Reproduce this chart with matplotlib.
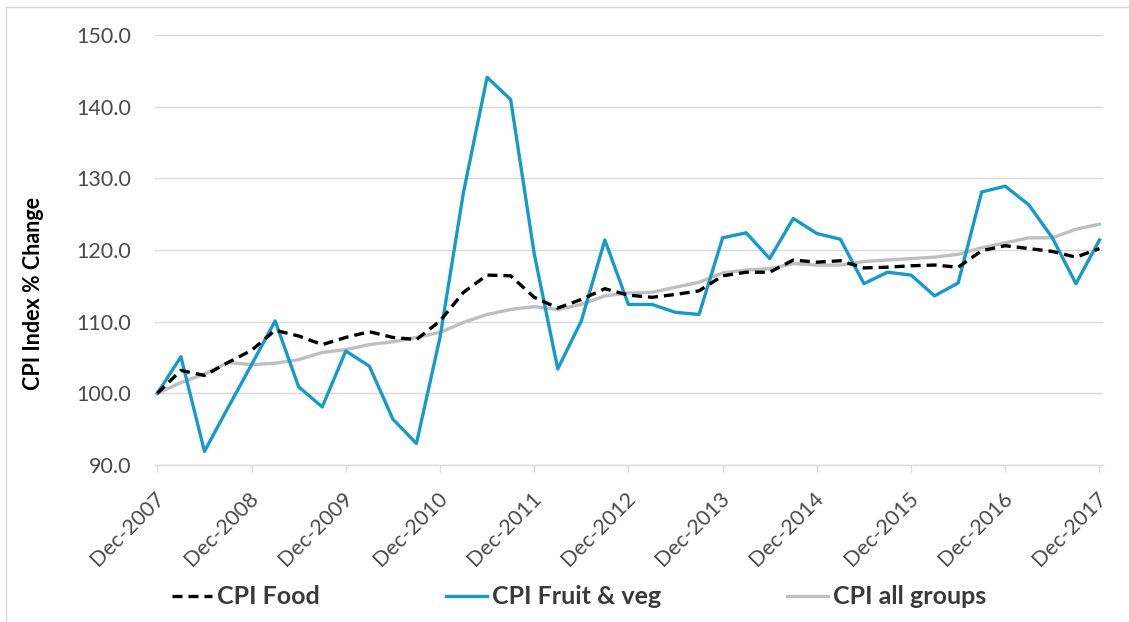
import matplotlib
matplotlib.use("Agg")
import matplotlib.pyplot as plt
import matplotlib.transforms as mtransforms
from matplotlib.lines import Line2D
import numpy as np

# quarterly CPI index, Dec-2007 = 100
tick_labels = ["Dec-2007", "Dec-2008", "Dec-2009", "Dec-2010", "Dec-2011", "Dec-2012",
               "Dec-2013", "Dec-2014", "Dec-2015", "Dec-2016", "Dec-2017"]

cpi_food = [100.0, 103.2, 102.5, 104.3, 106.0, 108.8, 108.0, 106.8, 107.8, 108.6,
            107.8, 107.5, 110.1, 114.1, 116.5, 116.4, 113.4, 111.9, 113.1, 114.6,
            113.7, 113.4, 113.8, 114.3, 116.4, 116.9, 116.9, 118.6, 118.3, 118.5,
            117.5, 117.6, 117.8, 117.9, 117.6, 119.9, 120.6, 120.2, 119.8, 119.0, 120.2]

cpi_fruit_veg = [100.0, 105.1, 91.9, 98.0, 104.0, 110.1, 100.9, 98.1, 105.9, 103.8,
                 96.4, 93.0, 107.8, 128.1, 144.1, 141.0, 119.5, 103.4, 110.1, 121.4,
                 112.4, 112.4, 111.3, 111.0, 121.7, 122.4, 118.8, 124.4, 122.3, 121.5,
                 115.3, 116.9, 116.5, 113.6, 115.4, 128.1, 128.9, 126.3, 121.7, 115.3, 121.4]

cpi_all_groups = [100.0, 101.5, 102.7, 104.3, 104.0, 104.2, 104.7, 105.7, 106.1, 106.8,
                  107.2, 107.8, 108.5, 109.9, 111.0, 111.7, 112.1, 111.7, 112.4, 113.6,
                  114.0, 114.1, 114.8, 115.5, 116.8, 117.2, 117.4, 118.1, 117.9, 117.9,
                  118.4, 118.6, 118.8, 119.0, 119.4, 120.3, 121.0, 121.7, 121.7, 122.9, 123.6]

plt.rcParams['font.family'] = ['Lato', 'DejaVu Sans']

W, H = 1129, 622
fig = plt.figure(figsize=(W / 100, H / 100), dpi=100)
ax = fig.add_axes([155 / W, 1 - 465 / H, (1103 - 155) / W, (465 - 35) / H])

x = np.arange(len(cpi_food))
ax.plot(x, cpi_all_groups, color='#bfbfbf', lw=2.4, label='CPI all groups', zorder=3)
ax.plot(x, cpi_fruit_veg, color='#159bcb', lw=2.4, label='CPI Fruit & veg', zorder=4)
ax.plot(x, cpi_food, color='black', lw=2.4, linestyle=(0, (3, 1.8)),
        label='CPI Food', zorder=5)

ax.set_ylim(90, 150)
ax.set_yticks(np.arange(90, 151, 10))
ax.set_yticklabels(["%.1f" % v for v in np.arange(90, 151, 10)])
ax.set_xlim(-0.1, 40.15)
ax.set_xticks(np.arange(0, 41, 4))
ax.set_xticklabels(tick_labels)

ax.grid(axis='y', color='#d9d9d9', lw=1.0)
ax.set_axisbelow(True)
for s in ['left', 'right', 'top']:
    ax.spines[s].set_visible(False)
ax.spines['bottom'].set_color('#d9d9d9')
ax.spines['bottom'].set_linewidth(1.0)

ax.tick_params(axis='y', length=0, pad=17, labelsize=15.5, labelcolor='#4a4a4a')
ax.tick_params(axis='x', length=5, width=1.0, color='#d9d9d9', pad=17,
               labelsize=15.5, labelcolor='#4a4a4a')
offset = mtransforms.ScaledTranslation(4 / 100, 0, fig.dpi_scale_trans)
for lab in ax.get_xticklabels():
    lab.set_rotation(45)
    lab.set_ha('right')
    lab.set_va('center')
    lab.set_rotation_mode('anchor')
    lab.set_transform(lab.get_transform() + offset)

ax.set_ylabel('CPI Index % Change', fontsize=15.5, fontweight='bold', color='black')
ax.yaxis.set_label_coords(-0.1166, 0.398)

# legend below the plot
handles, labels = ax.get_legend_handles_labels()
order = [2, 1, 0]
leg = fig.legend([handles[i] for i in order], [labels[i] for i in order],
                 loc='center left', bbox_to_anchor=(171.7 / W, 1 - 597 / H),
                 ncol=3, frameon=False, borderpad=0, borderaxespad=0,
                 handlelength=1.62, handletextpad=0.2, columnspacing=5.05,
                 prop={'size': 18, 'weight': 'bold'})
for t in leg.get_texts():
    t.set_color('#3a3a3a')

# thin frame at left and top edge
fig.add_artist(Line2D([5.5 / W, 5.5 / W], [0, 1 - 7 / H], color='#d9d9d9', lw=1.0))
fig.add_artist(Line2D([5.5 / W, 1], [1 - 7 / H, 1 - 7 / H], color='#d9d9d9', lw=1.0))

fig.savefig('out.png', dpi=100)
